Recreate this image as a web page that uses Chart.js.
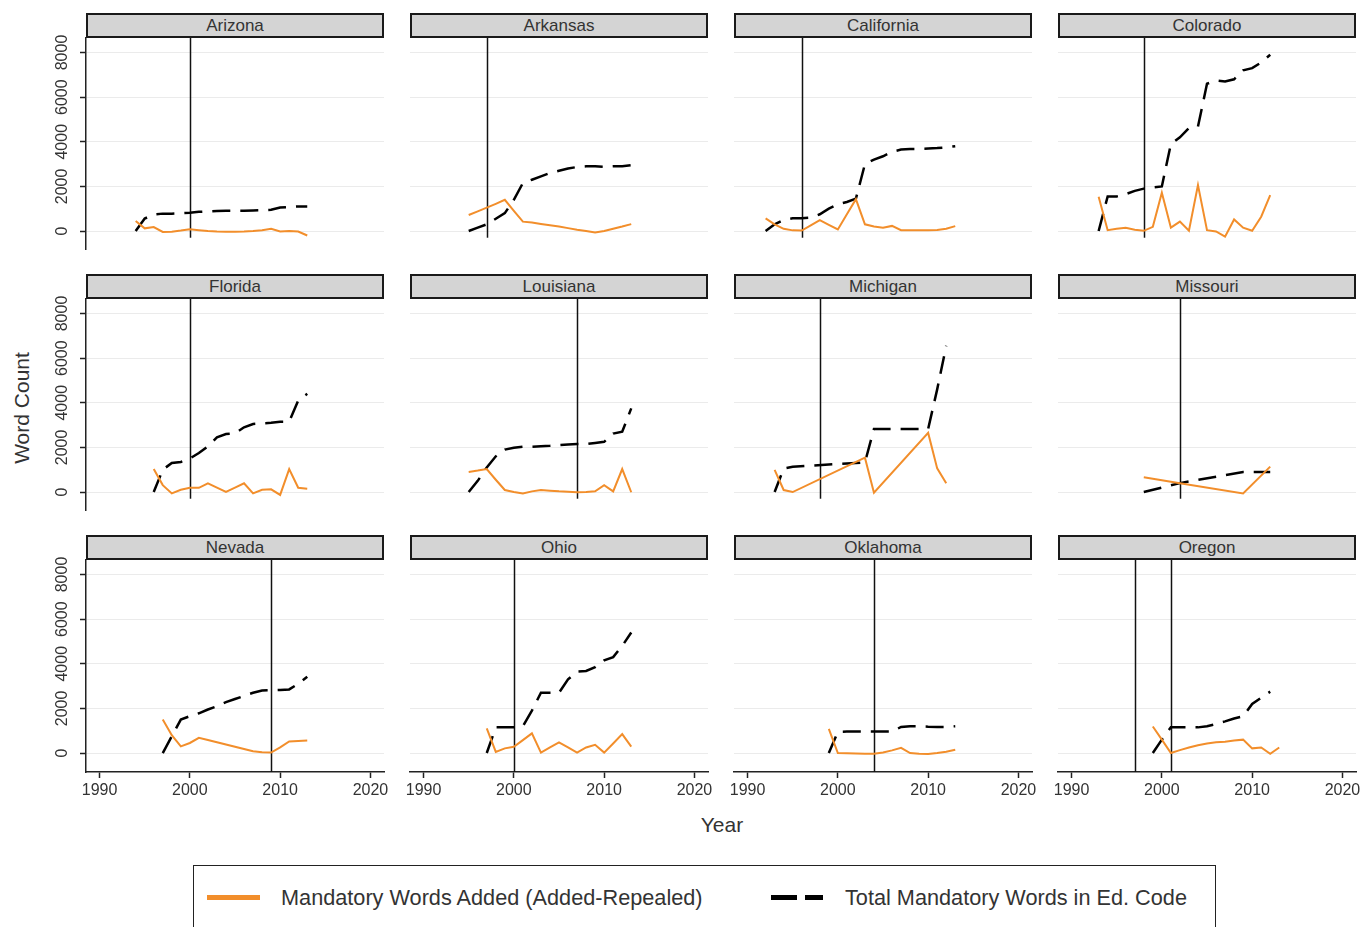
<!DOCTYPE html>
<html>
<head>
<meta charset="utf-8">
<script src="https://cdn.jsdelivr.net/npm/chart.js@4.4.0/dist/chart.umd.min.js"></script>
<style>
  body { margin: 0; background: #fff; font-family: "Liberation Sans", Arial, sans-serif; }
  #wrap { position: relative; width: 1372px; height: 927px; overflow: hidden; }
  .strip { position: absolute; width: 298px; height: 25px; box-sizing: border-box; background: #d4d4d4;
           border: 2px solid #1a1a1a; color: #333; font-size: 17px; line-height: 21px; text-align: center; }
  canvas { position: absolute; }
  .lbl { position: absolute; color: #333; font-size: 21px; white-space: nowrap; }
  .leg { position: absolute; color: #333; font-size: 21.7px; white-space: nowrap; }
</style>
</head>
<body>
<div id="wrap">
  <div class="lbl" style="left:22px;top:408px;transform:translate(-50%,-50%) rotate(-90deg);">Word Count</div>
  <div class="lbl" style="left:722px;top:825px;transform:translate(-50%,-50%);">Year</div>
  <div style="position:absolute;left:193px;top:865px;width:1023px;height:80px;border:1.5px solid #222;box-sizing:border-box;"></div>
  <div style="position:absolute;left:207px;top:895px;width:53px;height:5px;background:#f28e2b;"></div>
  <div class="leg" style="left:281px;top:885px;">Mandatory Words Added (Added-Repealed)</div>
  <div style="position:absolute;left:771px;top:895px;width:26px;height:5px;background:#000;"></div>
  <div style="position:absolute;left:805px;top:895px;width:18px;height:5px;background:#000;"></div>
  <div class="leg" style="left:845px;top:885px;">Total Mandatory Words in Ed. Code</div>
</div>
<script>
// === ДАННЫЕ ===
const states = ['Arizona', 'Arkansas', 'California', 'Colorado', 'Florida', 'Louisiana',
                'Michigan', 'Missouri', 'Nevada', 'Ohio', 'Oklahoma', 'Oregon'];
const policyYears = [[2000], [1997], [1996], [1998], [2000], [2007], [1998], [2002], [2009], [2000], [2004], [1997, 2001]];
const xTicks = [1990, 2000, 2010, 2020];
const yTicks = [0, 2000, 4000, 6000, 8000];

const yearsArizona = [1994,1995,1996,1997,1998,1999,2000,2001,2002,2003,2004,2005,2006,2007,2008,2009,2010,2011,2012,2013];
const addedArizona = [450,120,180,-40,-30,20,80,40,0,-20,-30,-30,-20,0,40,100,-20,0,-20,-200];
const totalArizona = [0,560,740,780,780,800,820,860,880,900,910,910,910,920,930,950,1050,1080,1100,1100];

const yearsArkansas = [1995,1996,1997,1998,1999,2000,2001,2002,2003,2004,2005,2006,2007,2008,2009,2010,2011,2012,2013];
const addedArkansas = [720,880,1050,1220,1400,900,420,380,320,260,200,130,60,0,-70,0,100,200,310];
const totalArkansas = [0,150,300,550,800,1400,2150,2300,2450,2600,2700,2800,2870,2900,2900,2880,2900,2900,2950];

const yearsCalifornia = [1992,1993,1994,1995,1996,1997,1998,1999,2000,2001,2002,2003,2004,2005,2006,2007,2008,2009,2010,2011,2012,2013];
const addedCalifornia = [570,300,100,30,20,250,490,280,70,750,1430,300,200,150,230,40,40,40,40,50,100,220];
const totalCalifornia = [0,300,500,570,570,600,750,1000,1200,1300,1450,3000,3200,3350,3550,3650,3680,3680,3700,3720,3750,3800];

const yearsColorado = [1993,1994,1995,1996,1997,1998,1999,2000,2001,2002,2003,2004,2005,2006,2007,2008,2009,2010,2011,2012];
const addedColorado = [1540,40,100,150,60,10,190,1720,150,420,10,2060,40,-20,-250,520,150,10,640,1610];
const totalColorado = [0,1550,1550,1650,1800,1900,1950,2000,3900,4200,4620,4680,6600,6750,6700,6800,7200,7300,7550,7900];

const yearsFlorida = [1996,1997,1998,1999,2000,2001,2002,2003,2004,2005,2006,2007,2008,2009,2010,2011,2012,2013];
const addedFlorida = [1030,310,-60,100,190,190,390,200,10,200,390,-60,100,120,-130,1030,190,150];
const totalFlorida = [0,1000,1300,1350,1500,1750,2050,2450,2600,2630,2900,3050,3080,3100,3150,3150,4100,4400];

const yearsLouisiana = [1995,1996,1997,1998,1999,2000,2001,2002,2003,2004,2005,2006,2007,2008,2009,2010,2011,2012,2013];
const addedLouisiana = [900,960,1030,550,90,0,-60,30,90,60,30,10,-10,0,30,310,30,1030,-10];
const totalLouisiana = [0,500,1100,1600,1900,1980,2030,2030,2050,2070,2100,2130,2150,2150,2200,2250,2620,2700,3750];

const yearsMichigan = [1993,1994,1995,2003,2004,2010,2011,2012];
const addedMichigan = [990,90,0,1540,-30,2650,1060,390];
const totalMichigan = [0,1050,1130,1330,2830,2830,4600,6550];

const yearsMissouri = [1998,2002,2009,2012];
const addedMissouri = [660,390,-60,1140];
const totalMissouri = [0,400,900,900];

const yearsNevada = [1997,1998,1999,2000,2001,2002,2003,2004,2005,2006,2007,2008,2009,2010,2011,2012,2013];
const addedNevada = [1500,800,300,450,680,580,480,380,280,180,80,40,20,250,520,540,560];
const totalNevada = [0,750,1500,1650,1780,1950,2100,2280,2420,2560,2700,2800,2820,2830,2850,3100,3420];

const yearsOhio = [1997,1998,1999,2000,2001,2002,2003,2004,2005,2006,2007,2008,2009,2010,2011,2012,2013];
const addedOhio = [1100,50,210,280,580,880,20,250,480,250,20,250,370,20,430,850,290];
const totalOhio = [0,1150,1150,1150,1200,1900,2700,2700,2700,3300,3650,3680,3850,4150,4300,4800,5400];

const yearsOklahoma = [1999,2000,2001,2002,2003,2004,2005,2006,2007,2008,2009,2010,2011,2012,2013];
const addedOklahoma = [1080,0,-10,-20,-30,-30,20,120,230,0,-30,-40,0,60,150];
const totalOklahoma = [0,950,960,960,960,960,960,960,1170,1200,1200,1180,1170,1170,1200];

const yearsOregon = [1999,2000,2001,2002,2003,2004,2005,2006,2007,2008,2009,2010,2011,2012,2013];
const addedOregon = [1190,600,0,130,250,350,430,480,510,560,600,210,250,-30,250];
const totalOregon = [0,600,1150,1150,1150,1150,1200,1300,1420,1550,1650,2200,2480,2750,null];

const panelYears = [yearsArizona, yearsArkansas, yearsCalifornia, yearsColorado, yearsFlorida, yearsLouisiana,
                    yearsMichigan, yearsMissouri, yearsNevada, yearsOhio, yearsOklahoma, yearsOregon];
const panelAdded = [addedArizona, addedArkansas, addedCalifornia, addedColorado, addedFlorida, addedLouisiana,
                    addedMichigan, addedMissouri, addedNevada, addedOhio, addedOklahoma, addedOregon];
const panelTotal = [totalArizona, totalArkansas, totalCalifornia, totalColorado, totalFlorida, totalLouisiana,
                    totalMichigan, totalMissouri, totalNevada, totalOhio, totalOklahoma, totalOregon];

// === НАСТРОЙКИ ===
const ORANGE = '#f28e2b';
const FONT = '"Liberation Sans", Arial, sans-serif';
Chart.defaults.font.family = FONT;

// вертикальные линии (год реформы)
const policyPlugin = {
  id: 'policy',
  beforeDatasetsDraw(chart, args, opts) {
    const { ctx, chartArea, scales: { x, y } } = chart;
    const bottom = opts.bottomRow ? chartArea.bottom : y.getPixelForValue(-300);
    ctx.save();
    ctx.strokeStyle = '#111';
    ctx.lineWidth = 1.5;
    opts.years.forEach(yr => {
      const px = Math.round(x.getPixelForValue(yr)) + 0.5;
      ctx.beginPath();
      ctx.moveTo(px, chartArea.top);
      ctx.lineTo(px, bottom);
      ctx.stroke();
    });
    ctx.restore();
  }
};

const wrap = document.getElementById('wrap');

function makePanel(i) {
  const r = Math.floor(i / 4), c = i % 4;
  const padL = c === 0 ? 52 : (r === 2 ? 14 : 0);
  const padR = r === 2 ? 20 : 0;
  const padB = r === 2 ? 40 : 0;
  const padT = c === 0 ? 14 : 0;   // место для верхней подписи оси Y
  const plotL = 86 + 324 * c, plotT = 38 + 261 * r;

  const strip = document.createElement('div');
  strip.className = 'strip';
  strip.style.left = plotL + 'px';
  strip.style.top = (plotT - 25) + 'px';
  strip.textContent = states[i];

  const cv = document.createElement('canvas');
  cv.width = 298 + padL + padR;
  cv.height = 212 + padB + padT;
  cv.style.left = (plotL - padL) + 'px';
  cv.style.top = (plotT - padT) + 'px';
  wrap.appendChild(cv);
  wrap.appendChild(strip);

  const yrs = panelYears[i];
  new Chart(cv, {
    type: 'line',
    data: {
      datasets: [{
        label: 'Mandatory Words Added (Added-Repealed)',
        data: yrs.map((yr, k) => ({ x: yr, y: panelAdded[i][k] })),
        borderColor: ORANGE,
        borderWidth: 2,
        pointRadius: 0,
        spanGaps: true
      }, {
        label: 'Total Mandatory Words in Ed. Code',
        data: yrs.map((yr, k) => ({ x: yr, y: panelTotal[i][k] })),
        borderColor: '#000',
        borderWidth: 2.5,
        borderDash: [18, 10],
        pointRadius: 0
      }]
    },
    options: {
      responsive: false,
      animation: false,
      devicePixelRatio: 1,
      layout: { padding: { left: 0, top: padT, bottom: 0, right: padR } },
      plugins: {
        legend: { display: false },
        tooltip: { enabled: false },
        policy: { years: policyYears[i], bottomRow: r === 2 }
      },
      scales: {
        x: {
          type: 'linear',
          min: 1988.5,
          max: 2021.5,
          afterBuildTicks: s => { s.ticks = xTicks.map(v => ({ value: v })); },
          afterFit: s => { s.height = padB; s.paddingLeft = 0; s.paddingRight = 0; },
          grid: { display: r === 2, drawOnChartArea: false, drawTicks: true, tickLength: 6, tickColor: '#222', tickWidth: 1.5 },
          border: { display: r === 2, color: '#222', width: 1.5 },
          ticks: { display: r === 2, maxRotation: 0, padding: 3, color: '#333', font: { size: 16 },
                   callback: v => String(v) }
        },
        y: {
          min: -850,
          max: 8650,
          afterBuildTicks: s => { s.ticks = yTicks.map(v => ({ value: v })); },
          afterFit: s => { s.width = padL; s.paddingTop = 0; s.paddingBottom = 0; },
          grid: { color: '#ebebeb', lineWidth: 1, drawTicks: c === 0, tickLength: 6, tickColor: '#222', tickWidth: 1.5 },
          border: { display: c === 0, color: '#222', width: 1.5 },
          ticks: { display: c === 0, autoSkip: false, minRotation: 90, maxRotation: 90, crossAlign: 'center',
                   padding: 0, color: '#333', font: { size: 16 }, callback: v => String(v) }
        }
      }
    },
    plugins: [policyPlugin]
  });
}

states.forEach((s, i) => makePanel(i));
</script>
</body>
</html>
